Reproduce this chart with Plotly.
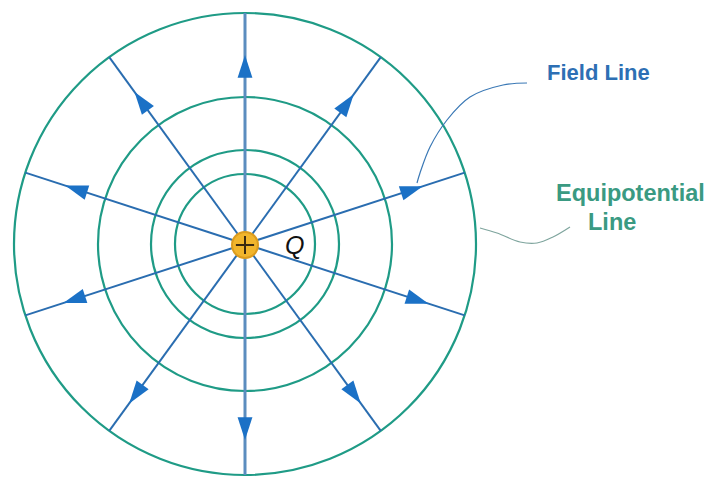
import math
import plotly.graph_objects as go

# ---- data (pixel-space drawing units) ----
center_x = 245
center_y = 244
circle_radii = [231, 147, 94, 70]
line_angles = [90, 54, 18, -18, -54, -90, -126, -162, 162, 126]
arrow_radii = [189, 185, 187, 193, 197, 196, 197, 191, 189, 188]
line_radius = 231

field_leader_x = [527, 503, 470, 447, 430, 420, 417]
field_leader_y = [83, 85, 97, 120, 147, 173, 183]
equi_leader_x = [480, 497, 520, 537, 553, 570]
equi_leader_y = [228, 233, 242, 243, 237, 227]

labels = ["Field Line", "Equipotential", "Line", "Q"]

W, H = 712, 477
CIRCLE_COLOR = "#1f9b86"
LINE_COLOR = "#2a6db0"
VERT_COLOR = "#5b8dbf"
ARROW_COLOR = "#1b71c6"

fig = go.Figure()

shapes = []
for r in circle_radii:
    shapes.append(dict(type="circle", xref="x", yref="y",
                       x0=center_x - r, x1=center_x + r,
                       y0=center_y - r, y1=center_y + r,
                       line=dict(color=CIRCLE_COLOR, width=2.2),
                       fillcolor="rgba(0,0,0,0)", layer="below"))

# field lines
for a in line_angles:
    rad = math.radians(a)
    ex = center_x + line_radius * math.cos(rad)
    ey = center_y - line_radius * math.sin(rad)
    vertical = abs(abs(a) - 90) < 1e-6
    fig.add_trace(go.Scatter(
        x=[center_x, ex], y=[center_y, ey], mode="lines",
        line=dict(color=VERT_COLOR if vertical else LINE_COLOR,
                  width=3 if vertical else 2),
        hoverinfo="skip", showlegend=False))

# arrowheads
ax, ay, ang = [], [], []
for a, r in zip(line_angles, arrow_radii):
    rad = math.radians(a)
    ax.append(center_x + r * math.cos(rad))
    ay.append(center_y - r * math.sin(rad))
    ang.append(90 - a)
fig.add_trace(go.Scatter(
    x=ax, y=ay, mode="markers",
    marker=dict(symbol="arrow", size=24, angle=ang, color=ARROW_COLOR,
                line=dict(width=0)),
    hoverinfo="skip", showlegend=False))

# leader curves
fig.add_trace(go.Scatter(x=field_leader_x, y=field_leader_y, mode="lines",
                         line=dict(color="#3a78b5", width=1.2, shape="spline"),
                         hoverinfo="skip", showlegend=False))
fig.add_trace(go.Scatter(x=equi_leader_x, y=equi_leader_y, mode="lines",
                         line=dict(color="#7fa59e", width=1.2, shape="spline"),
                         hoverinfo="skip", showlegend=False))

# charge
fig.add_trace(go.Scatter(x=[center_x], y=[center_y + 1], mode="markers",
                         marker=dict(symbol="circle", size=26, color="#f1b52c",
                                     line=dict(color="#dc9c1e", width=2)),
                         hoverinfo="skip", showlegend=False))
fig.add_trace(go.Scatter(x=[center_x], y=[center_y + 1], mode="markers",
                         marker=dict(symbol="cross-thin", size=13,
                                     line=dict(color="#3b2a10", width=2)),
                         hoverinfo="skip", showlegend=False))

ann = [
    dict(x=545, y=72, text="<b>" + labels[0] + "</b>", xanchor="left", yanchor="middle",
         font=dict(family="Liberation Sans, Arial", size=22, color="#2d6fb4")),
    dict(x=554, y=193, text="<b>" + labels[1] + "</b>", xanchor="left", yanchor="middle",
         font=dict(family="Liberation Sans, Arial", size=23.5, color="#3a9a82")),
    dict(x=586, y=222, text="<b>" + labels[2] + "</b>", xanchor="left", yanchor="middle",
         font=dict(family="Liberation Sans, Arial", size=23.5, color="#3a9a82")),
    dict(x=294, y=245, text="<i>" + labels[3] + "</i>", xanchor="center", yanchor="middle",
         font=dict(family="Liberation Sans, Arial", size=25, color="#111111")),
]
for a_ in ann:
    a_.update(xref="x", yref="y", showarrow=False)

fig.update_layout(
    width=W, height=H, margin=dict(l=0, r=0, t=0, b=0),
    paper_bgcolor="white", plot_bgcolor="white",
    xaxis=dict(range=[0, W], visible=False, fixedrange=True),
    yaxis=dict(range=[H, 0], visible=False, fixedrange=True),
    shapes=shapes, annotations=ann, showlegend=False,
)

fig.write_html("out.html", config={"displayModeBar": False},
               post_script="document.body.style.margin='0';document.body.style.overflow='hidden';")
